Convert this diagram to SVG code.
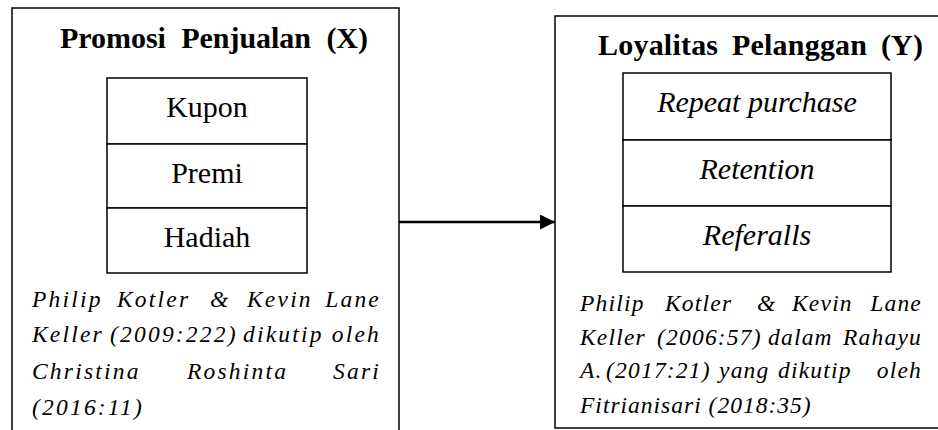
<svg xmlns="http://www.w3.org/2000/svg" width="938" height="430" viewBox="0 0 938 430">
<style>
.frame{fill:none;stroke:#000;stroke-width:1.5}
.cell{fill:#fff;stroke:#000;stroke-width:1.5}
.title{font-weight:bold;font-size:30px;fill:#000}
.item{font-size:30px;fill:#000;text-anchor:middle}
.it{font-style:italic}
.cite{font-style:italic;font-size:23.5px;fill:#000}
.cl{letter-spacing:2.2px}
.cr{letter-spacing:1.2px}
.end{text-anchor:end}
</style>
<defs>
<marker id="ah" markerWidth="16" markerHeight="16" refX="15" refY="7.5" orient="auto" markerUnits="userSpaceOnUse">
<polygon points="0,0 15,7.5 0,15" fill="#000"/>
</marker>
</defs>
<rect width="938" height="430" fill="#fff"/>
<g id="node-x" font-family="Liberation Serif, serif">
<path class="frame" d="M12,431 V8 H399 V431"/>
<text class="title" x="60" y="48" textLength="308" lengthAdjust="spacing" word-spacing="8">Promosi Penjualan (X)</text>
<rect class="cell" x="107" y="78" width="200" height="66"/>
<rect class="cell" x="107" y="144" width="200" height="64"/>
<rect class="cell" x="107" y="208" width="200" height="65"/>
<text class="item" x="207" y="117">Kupon</text>
<text class="item" x="207" y="183">Premi</text>
<text class="item" x="207" y="247">Hadiah</text>
<text class="cite cl" y="307"><tspan x="32">Philip</tspan><tspan x="117">Kotler</tspan><tspan x="210">&amp;</tspan><tspan x="247">Kevin</tspan><tspan class="end" x="381">Lane</tspan></text>
<text class="cite cl" y="342"><tspan x="32">Keller</tspan><tspan x="110">(2009:222)</tspan><tspan x="243">dikutip</tspan><tspan class="end" x="381">oleh</tspan></text>
<text class="cite cl" y="379"><tspan x="32">Christina</tspan><tspan x="187">Roshinta</tspan><tspan class="end" x="381">Sari</tspan></text>
<text class="cite cl" x="32" y="415">(2016:11)</text>
</g>
<g id="node-y" font-family="Liberation Serif, serif">
<path class="frame" d="M939,16 H555 V428 H939"/>
<text class="title" x="598" y="55" textLength="325" lengthAdjust="spacing" word-spacing="6">Loyalitas Pelanggan (Y)</text>
<rect class="cell" x="623" y="73" width="268" height="67"/>
<rect class="cell" x="623" y="140" width="268" height="66"/>
<rect class="cell" x="623" y="206" width="268" height="66"/>
<text class="item it" x="757" y="112">Repeat purchase</text>
<text class="item it" x="757" y="179">Retention</text>
<text class="item it" x="757" y="245">Referalls</text>
<text class="cite cr" y="311"><tspan x="580">Philip</tspan><tspan x="665">Kotler</tspan><tspan x="757">&amp;</tspan><tspan x="792">Kevin</tspan><tspan class="end" x="922">Lane</tspan></text>
<text class="cite cr" y="345"><tspan x="580">Keller</tspan><tspan x="657">(2006:57)</tspan><tspan x="768">dalam</tspan><tspan class="end" x="922">Rahayu</tspan></text>
<text class="cite cr" y="378"><tspan x="580">A.</tspan><tspan x="606">(2017:21)</tspan><tspan x="719">yang</tspan><tspan x="778">dikutip</tspan><tspan class="end" x="922">oleh</tspan></text>
<text class="cite" x="580" y="413" letter-spacing="1">Fitrianisari (2018:35)</text>
</g>
<g id="connectors">
<line x1="399" y1="222" x2="555" y2="222" stroke="#000" stroke-width="2.5" marker-end="url(#ah)"/>
</g>
</svg>
